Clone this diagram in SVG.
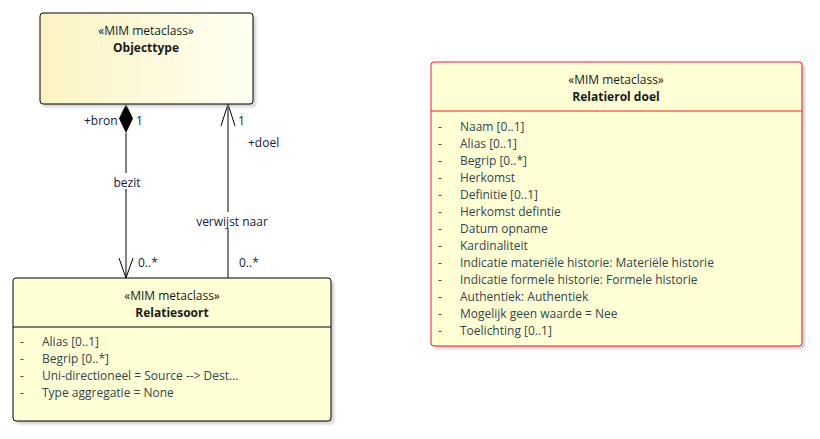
<svg xmlns="http://www.w3.org/2000/svg" width="820" height="439" viewBox="0 0 820 439">
<defs>
<linearGradient id="g1" x1="0" y1="0" x2="1" y2="0">
<stop offset="0" stop-color="#FBF3C2"/>
<stop offset="1" stop-color="#FFFFF2"/>
</linearGradient>
<filter id="sh" x="-5%" y="-5%" width="115%" height="115%">
<feGaussianBlur stdDeviation="1.5"/>
</filter>
</defs>
<style>
text{font-family:"Open Sans","Noto Sans","DejaVu Sans",sans-serif;font-size:12px;fill:#1a1a1a}
.st{text-anchor:middle}
.nm{text-anchor:middle;font-weight:bold}
.it{fill:#34444f}
.shadow{fill:#b0b0b0;filter:url(#sh);opacity:0.6}
.ln{stroke:#000;stroke-width:1;fill:none}
.lbl{fill:#1a1a40}
</style>
<g id="connectors">
<line class="ln" x1="126" y1="133" x2="126" y2="278"/>
<polygon points="126,104 133,118.5 126,133 119,118.5" fill="#000"/>
<polyline class="ln" points="119,258 126,278 133,258"/>
<line class="ln" x1="228" y1="104" x2="228" y2="278"/>
<polyline class="ln" points="221,126 228,104 235,126"/>
<rect x="110" y="173" width="34" height="16" fill="#fff"/>
<text class="lbl" x="127" y="187" text-anchor="middle">bezit</text>
<rect x="191" y="212" width="82" height="16" fill="#fff"/>
<text class="lbl" x="232" y="226" text-anchor="middle">verwijst naar</text>
<text class="lbl" x="84" y="125">+bron</text>
<text class="lbl" x="136" y="125">1</text>
<text class="lbl" x="238" y="125">1</text>
<text class="lbl" x="248" y="147">+doel</text>
<text class="lbl" x="138" y="267">0..*</text>
<text class="lbl" x="239" y="267">0..*</text>
</g>
<g id="objecttype">
<rect class="shadow" x="43" y="16" width="213" height="91" rx="3"/>
<rect x="40" y="13" width="213" height="91" rx="3" fill="url(#g1)" stroke="#000"/>
<text class="st" x="146" y="35">«MIM metaclass»</text>
<text class="nm" x="146" y="52">Objecttype</text>
</g>
<g id="relatiesoort">
<rect class="shadow" x="16" y="281" width="318" height="143" rx="3"/>
<rect x="13" y="278" width="318" height="143" rx="3" fill="#FFFFD6" stroke="#000"/>
<line x1="13" y1="327" x2="331" y2="327" stroke="#000"/>
<text class="st" x="172" y="300">«MIM metaclass»</text>
<text class="nm" x="172" y="317">Relatiesoort</text>
<text class="it" x="20" y="346">-</text><text class="it" x="42" y="346">Alias [0..1]</text>
<text class="it" x="20" y="363">-</text><text class="it" x="42" y="363">Begrip [0..*]</text>
<text class="it" x="20" y="380">-</text><text class="it" x="42" y="380">Uni-directioneel = Source --&gt; Dest...</text>
<text class="it" x="20" y="397">-</text><text class="it" x="42" y="397">Type aggregatie = None</text>
</g>
<g id="relatierol-doel">
<rect class="shadow" x="434" y="65" width="371" height="284" rx="3"/>
<rect x="431" y="62" width="371" height="284" rx="3" fill="#FFFFD6" stroke="#E8202A"/>
<line x1="431" y1="111" x2="802" y2="111" stroke="#E8202A"/>
<text class="st" x="616" y="84">«MIM metaclass»</text>
<text class="nm" x="616" y="101">Relatierol doel</text>
<text class="it" x="438" y="131">-</text><text class="it" x="460" y="131">Naam [0..1]</text>
<text class="it" x="438" y="148">-</text><text class="it" x="460" y="148">Alias [0..1]</text>
<text class="it" x="438" y="165">-</text><text class="it" x="460" y="165">Begrip [0..*]</text>
<text class="it" x="438" y="182">-</text><text class="it" x="460" y="182">Herkomst</text>
<text class="it" x="438" y="199">-</text><text class="it" x="460" y="199">Definitie [0..1]</text>
<text class="it" x="438" y="216">-</text><text class="it" x="460" y="216">Herkomst defintie</text>
<text class="it" x="438" y="233">-</text><text class="it" x="460" y="233">Datum opname</text>
<text class="it" x="438" y="250">-</text><text class="it" x="460" y="250">Kardinaliteit</text>
<text class="it" x="438" y="267">-</text><text class="it" x="460" y="267">Indicatie materiële historie: Materiële historie</text>
<text class="it" x="438" y="284">-</text><text class="it" x="460" y="284">Indicatie formele historie: Formele historie</text>
<text class="it" x="438" y="301">-</text><text class="it" x="460" y="301">Authentiek: Authentiek</text>
<text class="it" x="438" y="318">-</text><text class="it" x="460" y="318">Mogelijk geen waarde = Nee</text>
<text class="it" x="438" y="335">-</text><text class="it" x="460" y="335">Toelichting [0..1]</text>
</g>
</svg>
